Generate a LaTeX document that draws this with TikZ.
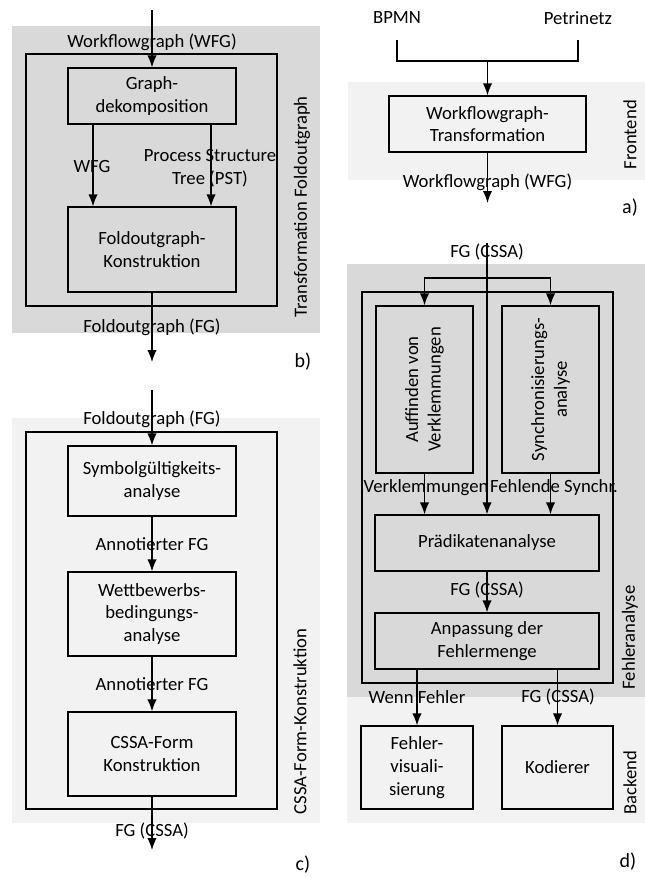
\documentclass[tikz,border=0pt]{standalone}
\usepackage{fontspec}
\setmainfont{Carlito}
\usetikzlibrary{arrows.meta}
\definecolor{bgdark}{HTML}{D9D9D9}
\definecolor{bglight}{HTML}{F2F2F2}
\tikzset{
	>={Latex[length=9pt,width=7pt]},
	stufe/.style={
		rectangle,
		draw=black,
		inner sep=0pt,
		align=center,
		minimum width=126pt,
		minimum height=42pt
	},
	seite/.style={rotate=90, anchor=west, inner sep=0pt},
	teil/.style={font=\fontsize{15pt}{18pt}\selectfont}
}

\begin{document}
\begin{tikzpicture}[x=0.75pt, y=-0.75pt, line width=0.95pt, font=\fontsize{14pt}{17pt}\selectfont]
	\useasboundingbox (0,0) rectangle (644,878);

	% b) Transformation Foldoutgraph
	\fill[bgdark] (12,26) rectangle (320,333);
	\draw (26,54) rectangle (277,306);
	\node[stufe] (graphdek) at (152,96) {Graph-\\dekomposition};
	\node[stufe, minimum height=63.75pt] (foldkon) at (152,249.5) {Foldoutgraph-\\Konstruktion};
	\coordinate (b-in) at (152,10);
	\coordinate (b-out) at (152,362);

	\draw[->] (b-in) -- (graphdek);
	\draw[->] ([xshift=-44.25pt]graphdek.south) -- ([xshift=-44.25pt]foldkon.north);
	\draw[->] ([xshift=44.25pt]graphdek.south) -- ([xshift=44.25pt]foldkon.north);
	\draw[->] (foldkon) -- (b-out);

	\node (b-wfg) at (152,42) {Workflowgraph (WFG)};
	\node (b-wfg2) at (92,167) {WFG};
	\node[align=center] (b-pst) at (210,168.5) {Process Structure\\Tree (PST)};
	\node (b-fg) at (152,327) {Foldoutgraph (FG)};
	\node[seite] (b-titel) at (302,318) {Transformation Foldoutgraph};
	\node[teil] (b-teil) at (303,362) {b)};

	% c) CSSA-Form-Konstruktion
	\fill[bglight] (12,418) rectangle (320,823);
	\draw (26,432) rectangle (277,809);
	\node[stufe, minimum height=52.5pt] (symbol) at (152,481) {Symbolgültigkeits-\\analyse};
	\node[stufe, minimum height=63pt] (wettbewerb) at (152,614) {Wettbewerbs-\\bedingungs-\\analyse};
	\node[stufe, minimum height=63pt] (cssaform) at (152,754) {CSSA-Form\\Konstruktion};
	\coordinate (c-in) at (152,390);
	\coordinate (c-out) at (152,850);

	\draw[->] (c-in) -- (symbol);
	\draw[->] (symbol) -- (wettbewerb);
	\draw[->] (wettbewerb) -- (cssaform);
	\draw[->] (cssaform) -- (c-out);

	\node (c-fg) at (152,419) {Foldoutgraph (FG)};
	\node (c-ann1) at (152,544) {Annotierter FG};
	\node (c-ann2) at (152,684) {Annotierter FG};
	\node (c-cssa) at (152,831) {FG (CSSA)};
	\node[seite] (c-titel) at (300,815) {CSSA-Form-Konstruktion};
	\node[teil] (c-teil) at (303,865) {c)};

	% a) Frontend
	\fill[bglight] (348,82) rectangle (650,180);
	\node (bpmn) at (397,18) {BPMN};
	\node (petri) at (578,18) {Petrinetz};
	\node[stufe, minimum width=147.75pt] (wfgtrans) at (487.5,124) {Workflowgraph-\\Transformation};
	\coordinate (a-join) at (487.5,61);
	\coordinate (a-out) at (487.5,203);

	\draw ([yshift=-8pt]bpmn.south) |- (a-join) -| ([yshift=-8pt]petri.south);
	\draw[->] (a-join) -- (wfgtrans);
	\draw[->] (wfgtrans) -- (a-out);

	\node (a-wfg) at (487.5,182) {Workflowgraph (WFG)};
	\node[seite] (a-titel) at (630,170) {Frontend};
	\node[teil] (a-teil) at (630,208) {a)};

	% d) Fehleranalyse und Backend
	\fill[bgdark] (347,264) rectangle (650,697);
	\fill[bglight] (347,697) rectangle (650,823);
	\draw (362,292) rectangle (613,683);
	\node[stufe, minimum width=72.75pt, minimum height=125.25pt] (auffinden) at (424.5,389.5) {};
	\node[align=center, rotate=90] (auffinden-text) at (auffinden) {Auffinden von\\Verklemmungen};
	\node[stufe, minimum width=72.75pt, minimum height=125.25pt] (synchron) at (550.5,389.5) {};
	\node[align=center, rotate=90] (synchron-text) at (synchron) {Synchronisierungs-\\analyse};
	\node[stufe, minimum width=168pt] (praedikat) at (487,543) {Prädikatenanalyse};
	\node[stufe, minimum width=168pt] (anpassung) at (487,641) {Anpassung der\\Fehlermenge};
	\node[stufe, minimum width=84pt, minimum height=62.25pt] (fehlervis) at (417,767.5) {Fehler-\\visuali-\\sierung};
	\node[stufe, minimum width=83.25pt, minimum height=62.25pt] (kodierer) at (557.5,767.5) {Kodierer};
	\coordinate (d-in) at (487,243);
	\coordinate (d-split) at (487,278);

	\draw[->] (d-in) -- (praedikat);
	\draw[->] (d-split) -| (auffinden);
	\draw[->] (d-split) -| (synchron);
	\draw[->] (auffinden) -- (auffinden |- praedikat.north);
	\draw[->] (synchron) -- (synchron |- praedikat.north);
	\draw[->] (praedikat) -- (anpassung);
	\draw[->] (fehlervis |- anpassung.south) -- (fehlervis);
	\draw[->] (kodierer |- anpassung.south) -- (kodierer);

	\node (d-fg1) at (487,252) {FG (CSSA)};
	\node (d-verkl) at (426,488) {Verklemmungen};
	\node (d-synchr) at (554,488) {Fehlende Synchr.};
	\node (d-fg2) at (487,590) {FG (CSSA)};
	\node (d-wenn) at (417,697) {Wenn Fehler};
	\node (d-fg3) at (558,697) {FG (CSSA)};
	\node[seite] (d-titel) at (630,690) {Fehleranalyse};
	\node[seite] (d-backend) at (630,815) {Backend};
	\node[teil] (d-teil) at (628,862) {d)};
\end{tikzpicture}
\end{document}
